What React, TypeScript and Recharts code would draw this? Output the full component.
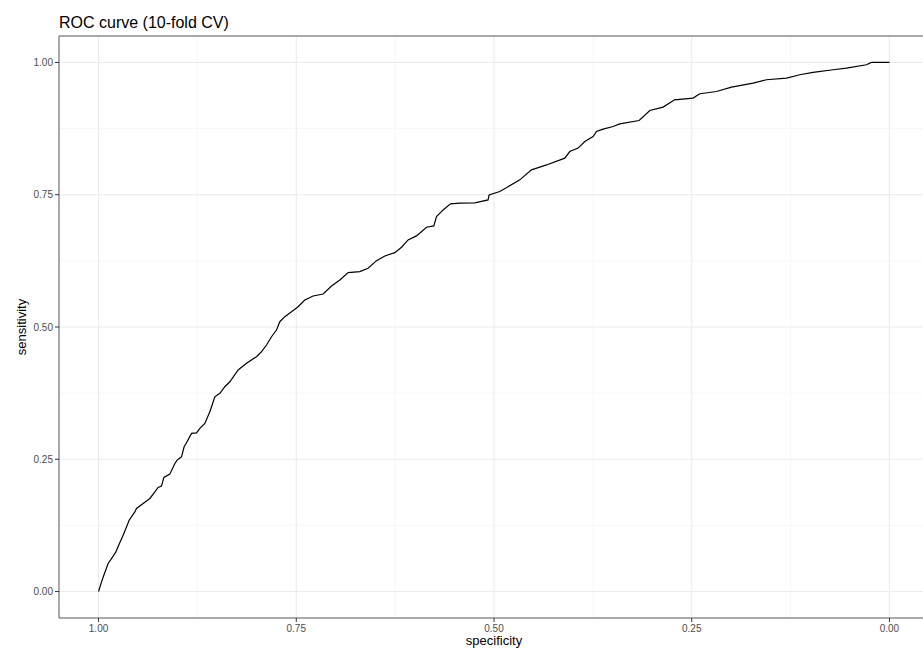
import { CartesianGrid, Line, LineChart, ReferenceLine, XAxis, YAxis } from "recharts";

// specificity / sensitivity pairs
const specificity = [
  1.0, 0.9962, 0.9933, 0.9879, 0.9815, 0.9781, 0.974, 0.9689, 0.9638, 0.9613,
  0.9541, 0.952, 0.9436, 0.9351, 0.9288, 0.9247, 0.9204, 0.9174, 0.9099, 0.9035,
  0.9006, 0.8951, 0.8918, 0.8888, 0.8824, 0.8761, 0.8719, 0.8656, 0.8593, 0.8571,
  0.853, 0.8466, 0.8403, 0.834, 0.8235, 0.8129, 0.8003, 0.7939, 0.7876, 0.7813,
  0.775, 0.7708, 0.7645, 0.756, 0.7477, 0.7392, 0.7287, 0.7161, 0.7054, 0.6949,
  0.6844, 0.6697, 0.6592, 0.6485, 0.638, 0.6254, 0.6169, 0.6086, 0.598, 0.5853,
  0.5761, 0.5727, 0.5643, 0.555, 0.5432, 0.5243, 0.5075, 0.5062, 0.4927, 0.4674,
  0.4526, 0.4336, 0.4105, 0.4042, 0.3937, 0.3852, 0.3747, 0.3704, 0.3621, 0.3494,
  0.341, 0.3165, 0.303, 0.2862, 0.2717, 0.2483, 0.2398, 0.2187, 0.1997, 0.1724,
  0.1555, 0.1302, 0.1134, 0.0966, 0.0713, 0.0544, 0.0291, 0.0228, 0.0,
];
const sensitivity = [
  0.0, 0.0182, 0.0308, 0.053, 0.0668, 0.0749, 0.0895, 0.1065, 0.1254, 0.1349,
  0.1506, 0.157, 0.1665, 0.1759, 0.1884, 0.1967, 0.1992, 0.2157, 0.2219, 0.2421,
  0.2484, 0.2546, 0.2736, 0.2811, 0.2989, 0.3, 0.3084, 0.3178, 0.3398, 0.3492,
  0.3681, 0.3746, 0.3871, 0.3965, 0.4187, 0.4313, 0.4438, 0.4533, 0.466, 0.4816,
  0.4943, 0.51, 0.5195, 0.5289, 0.5384, 0.5511, 0.5586, 0.5624, 0.5776, 0.5889,
  0.6027, 0.6046, 0.611, 0.6254, 0.6343, 0.6406, 0.6508, 0.6646, 0.6722, 0.6886,
  0.6911, 0.7087, 0.7213, 0.7327, 0.734, 0.7346, 0.7402, 0.7497, 0.756, 0.7781,
  0.797, 0.8063, 0.8191, 0.8316, 0.8381, 0.8505, 0.86, 0.8695, 0.874, 0.8789,
  0.884, 0.8903, 0.9092, 0.9156, 0.9294, 0.9327, 0.9409, 0.9451, 0.9535, 0.961,
  0.9673, 0.9705, 0.9768, 0.9811, 0.9862, 0.9894, 0.9956, 1.0, 1.0,
];
const majorTicks = [0, 0.25, 0.5, 0.75, 1];
const minorTicks = [0.125, 0.375, 0.625, 0.875];
const axisLimits = [-0.05, 1.05];

const rocData = specificity.map((s, i) => ({ specificity: s, sensitivity: sensitivity[i] }));

const font = "'Liberation Sans', Arial, Helvetica, sans-serif";
const tickStyle = { fill: "#4D4D4D", fontSize: 10, fontFamily: font };
const fmt = (v: number) => v.toFixed(2);

export default function App() {
  return (
    <div
      style={{
        position: "fixed",
        left: 0,
        top: 0,
        width: 923,
        height: 651,
        overflow: "hidden",
        background: "#fff",
        fontFamily: font,
      }}
    >
      <div
        style={{
          position: "absolute",
          left: 59,
          top: 14.5,
          fontSize: 16,
          lineHeight: "16px",
          color: "#000",
          whiteSpace: "nowrap",
        }}
      >
        ROC curve (10-fold CV)
      </div>
      <LineChart
        width={929}
        height={651}
        data={rocData}
        margin={{ top: 36, right: 0, bottom: 0, left: 0 }}
      >
        <CartesianGrid
          stroke="#F2F2F2"
          strokeWidth={0.6}
          horizontalValues={minorTicks}
          verticalValues={minorTicks}
        />
        <CartesianGrid
          stroke="#EBEBEB"
          strokeWidth={1.1}
          horizontalValues={majorTicks}
          verticalValues={majorTicks}
        />
        <XAxis
          dataKey="specificity"
          type="number"
          domain={axisLimits}
          reversed
          ticks={majorTicks}
          tickFormatter={fmt}
          tick={tickStyle}
          tickSize={4}
          tickMargin={3}
          height={33}
          allowDataOverflow
          stroke="#555"
          tickLine={{ stroke: "#333" }}
          label={{
            value: "specificity",
            position: "insideBottom",
            offset: 6,
            style: { fill: "#000", fontSize: 13, fontFamily: font },
          }}
        />
        <YAxis
          dataKey="sensitivity"
          type="number"
          domain={axisLimits}
          ticks={majorTicks}
          tickFormatter={fmt}
          tick={tickStyle}
          tickSize={4}
          tickMargin={2}
          width={59}
          allowDataOverflow
          stroke="#555"
          tickLine={{ stroke: "#333" }}
          label={{
            value: "sensitivity",
            angle: -90,
            position: "insideLeft",
            offset: 21,
            style: { fill: "#000", fontSize: 13, fontFamily: font, textAnchor: "middle" },
          }}
        />
        {/* top panel border */}
        <ReferenceLine y={axisLimits[1]} stroke="#555" strokeWidth={1} ifOverflow="visible" />
        <Line
          type="linear"
          dataKey="sensitivity"
          stroke="#000"
          strokeWidth={1.2}
          dot={false}
          isAnimationActive={false}
        />
      </LineChart>
    </div>
  );
}
